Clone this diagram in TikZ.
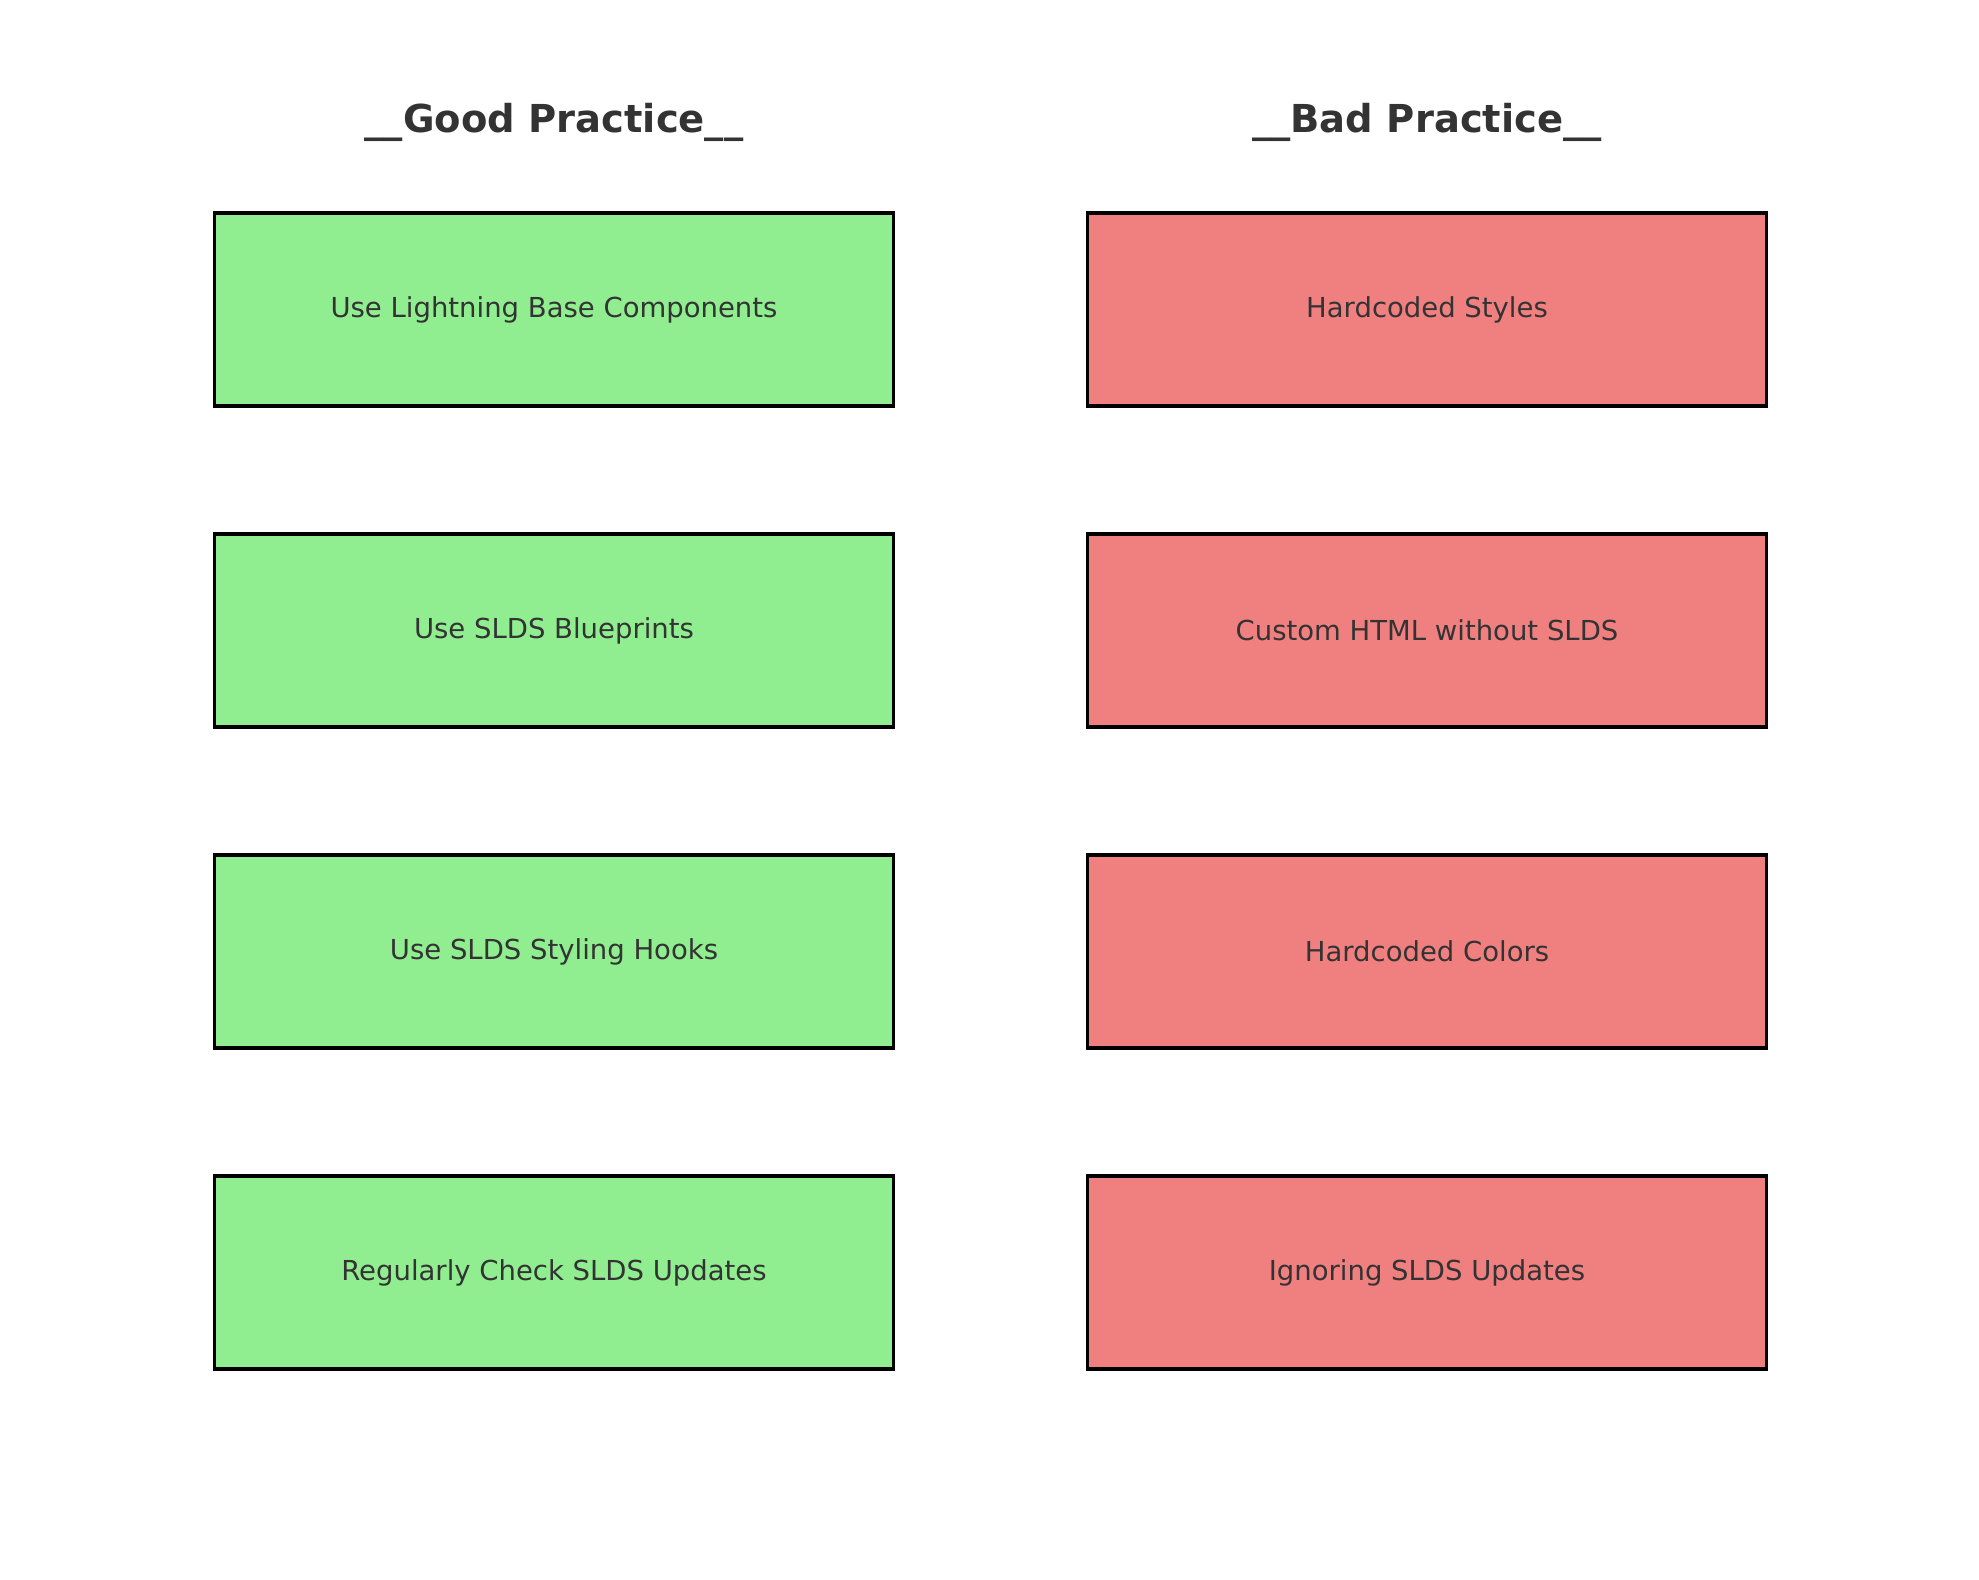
\documentclass[tikz,border=0pt]{standalone}
\usepackage{fontspec}
\setmainfont{DejaVu Sans}
\usepackage{xcolor}
\usetikzlibrary{positioning}

\definecolor{goodfill}{HTML}{90EE90}
\definecolor{badfill}{HTML}{F08080}
\definecolor{textgray}{HTML}{333333}

\begin{document}
\begin{tikzpicture}[x=0.36378pt, y=-0.36378pt,
        practicebox/.style={draw=black, line width=1.1pt, minimum width=679*0.36378pt,
            minimum height=193*0.36378pt, inner sep=0pt, text=textgray,
            font=\fontsize{10}{12}\selectfont},
        headline/.style={text=textgray, font=\fontsize{14}{17}\selectfont\bfseries}]

            % Settings
            \def\rowpitch{321}
            \def\firstrow{309.5}

            \useasboundingbox (0,0) rectangle (1979,1580);

            % Column headings
            \node[headline] (goodtitle) at (554, 122) {\_\_Good Practice\_\_};
            \node[headline] (badtitle) at (1427, 122) {\_\_Bad Practice\_\_};

            % Good practice boxes
            \foreach \i/\label in {0/Use Lightning Base Components, 1/Use SLDS Blueprints, 2/Use SLDS Styling Hooks, 3/Regularly Check SLDS Updates} {
                    \node[practicebox, fill=goodfill] (good\i) at (554, \firstrow + \i*\rowpitch) {\label};
                }

            % Bad practice boxes
            \foreach \i/\label in {0/Hardcoded Styles, 1/Custom HTML without SLDS, 2/Hardcoded Colors, 3/Ignoring SLDS Updates} {
                    \node[practicebox, fill=badfill] (bad\i) at (1427, \firstrow + \i*\rowpitch) {\label};
                }
        \end{tikzpicture}
\end{document}
